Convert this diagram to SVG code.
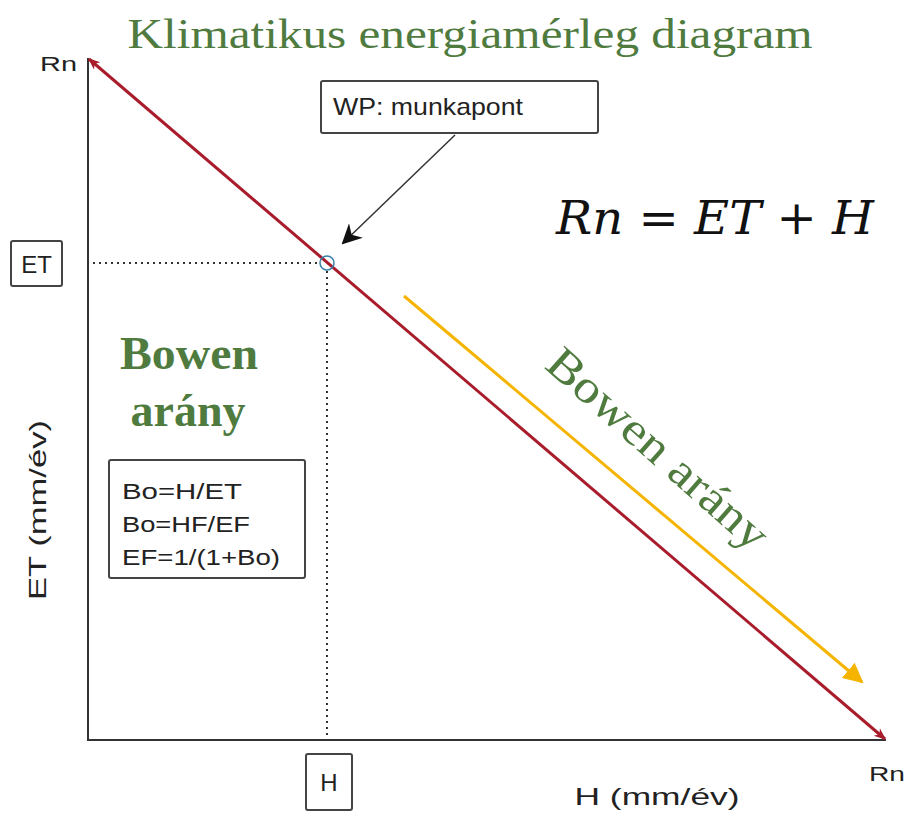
<svg xmlns="http://www.w3.org/2000/svg" width="906" height="816" viewBox="0 0 906 816">
<style>
.sans{font-family:"Liberation Sans",Arial,sans-serif;fill:#222}
.green{font-family:"Liberation Serif","Times New Roman",serif;fill:#4f7b3f}
.box{fill:#fff;stroke:#444;stroke-width:2}
.dot{stroke:#333;stroke-width:2;stroke-dasharray:2 4;fill:none}
</style>
<defs>
<marker id="redArrow" viewBox="0 0 10 10" refX="9" refY="5" markerWidth="12" markerHeight="12" orient="auto-start-reverse" markerUnits="userSpaceOnUse">
<path d="M0,1 L10,5 L0,9 L3,5 z" fill="#a81c2c"/>
</marker>
<marker id="blackArrow" viewBox="0 0 10 10" refX="9" refY="5" markerWidth="20" markerHeight="20" orient="auto" markerUnits="userSpaceOnUse">
<path d="M0,0 L10,5 L0,10 L3,5 z" fill="#111"/>
</marker>
<marker id="yellowArrow" viewBox="0 0 10 10" refX="9" refY="5" markerWidth="20" markerHeight="20" orient="auto" markerUnits="userSpaceOnUse">
<path d="M0,0 L10,5 L0,10 z" fill="#f5b400"/>
</marker>
</defs>
<rect width="906" height="816" fill="#fff"/>
<text id="title" class="green" x="470" y="48" font-size="43" text-anchor="middle" textLength="685" lengthAdjust="spacingAndGlyphs">Klimatikus energiamérleg diagram</text>
<g id="axes">
<line x1="88" y1="58" x2="88" y2="741" stroke="#333" stroke-width="2"/>
<line x1="87" y1="740" x2="886" y2="740" stroke="#333" stroke-width="2"/>
</g>
<g id="connectors">
<line x1="89" y1="59" x2="885" y2="739" stroke="#a81c2c" stroke-width="3" marker-start="url(#redArrow)" marker-end="url(#redArrow)"/>
<line class="dot" x1="93" y1="263" x2="320" y2="263"/>
<line class="dot" x1="327" y1="271" x2="327" y2="740"/>
<line x1="455" y1="135" x2="343" y2="243" stroke="#333" stroke-width="1.5" marker-end="url(#blackArrow)"/>
<line x1="404" y1="296" x2="862" y2="682" stroke="#f5b400" stroke-width="3" marker-end="url(#yellowArrow)"/>
</g>
<circle id="wp-point" cx="327" cy="263" r="7" fill="none" stroke="#3a7fa8" stroke-width="1.5"/>
<text id="rn-top" class="sans" x="40" y="71" font-size="21" textLength="37" lengthAdjust="spacingAndGlyphs">Rn</text>
<text id="rn-right" class="sans" x="869" y="781" font-size="21" textLength="36" lengthAdjust="spacingAndGlyphs">Rn</text>
<g id="node-et">
<rect class="box" x="11" y="241" width="51" height="45" rx="2"/>
<text class="sans" x="36.5" y="273" font-size="24" text-anchor="middle">ET</text>
</g>
<g id="node-h">
<rect class="box" x="306" y="754" width="46" height="56" rx="2"/>
<text class="sans" x="329" y="791" font-size="24" text-anchor="middle">H</text>
</g>
<g id="node-wp">
<rect class="box" x="321" y="81" width="277" height="52" rx="2"/>
<text class="sans" x="333" y="115" font-size="24" textLength="190" lengthAdjust="spacingAndGlyphs">WP: munkapont</text>
</g>
<g id="node-bo">
<rect class="box" x="109" y="460" width="196" height="118" rx="2"/>
<text class="sans" x="122" y="499" font-size="22" textLength="120" lengthAdjust="spacingAndGlyphs">Bo=H/ET</text>
<text class="sans" x="122" y="532" font-size="22" textLength="128" lengthAdjust="spacingAndGlyphs">Bo=HF/EF</text>
<text class="sans" x="122" y="565" font-size="22" textLength="158" lengthAdjust="spacingAndGlyphs">EF=1/(1+Bo)</text>
</g>
<text id="eq" x="715" y="234" font-size="46" font-style="italic" text-anchor="middle" font-family="'DejaVu Serif','Liberation Serif',serif" fill="#111" textLength="318" lengthAdjust="spacingAndGlyphs">Rn = ET + H</text>
<text class="green" x="189" y="369" font-size="46" font-weight="bold" text-anchor="middle" textLength="138" lengthAdjust="spacingAndGlyphs">Bowen</text>
<text class="green" x="188" y="426" font-size="46" font-weight="bold" text-anchor="middle" textLength="115" lengthAdjust="spacingAndGlyphs">arány</text>
<text class="green" font-size="46" text-anchor="middle" transform="translate(648,460) rotate(41.5)" textLength="280" lengthAdjust="spacingAndGlyphs">Bowen arány</text>
<text class="sans" font-size="24" text-anchor="middle" transform="translate(46,510) rotate(-90)" textLength="180" lengthAdjust="spacingAndGlyphs">ET (mm/év)</text>
<text class="sans" x="657" y="805" font-size="24" text-anchor="middle" textLength="165" lengthAdjust="spacingAndGlyphs">H (mm/év)</text>
</svg>
